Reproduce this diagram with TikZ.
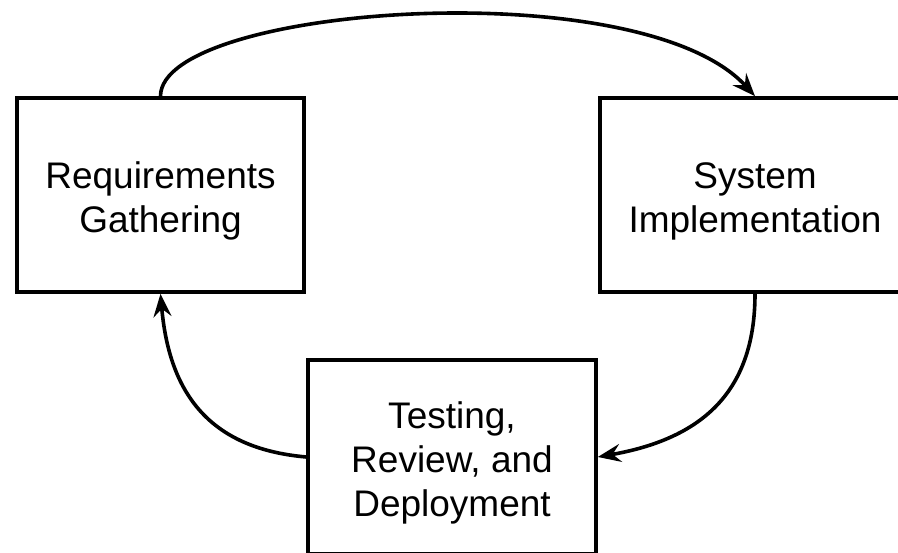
\documentclass[tikz,border=0pt]{standalone}
\usepackage{fontspec}
\setmainfont{Liberation Sans}
\usetikzlibrary{arrows.meta}
\begin{document}
\begin{tikzpicture}[x=1pt,y=1pt,
  stagebox/.style={draw=black, line width=3.6pt, fill=white, rectangle,
    minimum height=194pt, align=center, inner sep=0pt,
    font=\fontsize{37}{44}\selectfont},
  flow/.style={line width=3.6pt, -{Stealth[length=23pt,width=18pt,inset=8pt]}}]
  \useasboundingbox (0,0) rectangle (898,553);
  \clip (0,0) rectangle (898,553);
  % the three stages of the cycle
  \node[stagebox, minimum width=287pt] (req) at (160.5,358)
    {\rule{0pt}{37.7pt}Requirements\\Gathering};
  \node[stagebox, minimum width=310pt] (impl) at (755,358)
    {\rule{0pt}{37.7pt}System\\Implementation};
  \node[stagebox, minimum width=288pt] (test) at (452,96)
    {\rule{0pt}{37.7pt}Testing,\\Review, and\\Deployment};
  % connectors between the stages
  \draw[flow] (req.north) .. controls +(0,90) and +(-115,126) .. (impl.north);
  \draw[flow] (impl.south) to[out=-90, in=10, looseness=1.15] (test.east);
  \draw[flow] (test.west) to[out=175, in=-85, looseness=1.15] (req.south);
\end{tikzpicture}
\end{document}
